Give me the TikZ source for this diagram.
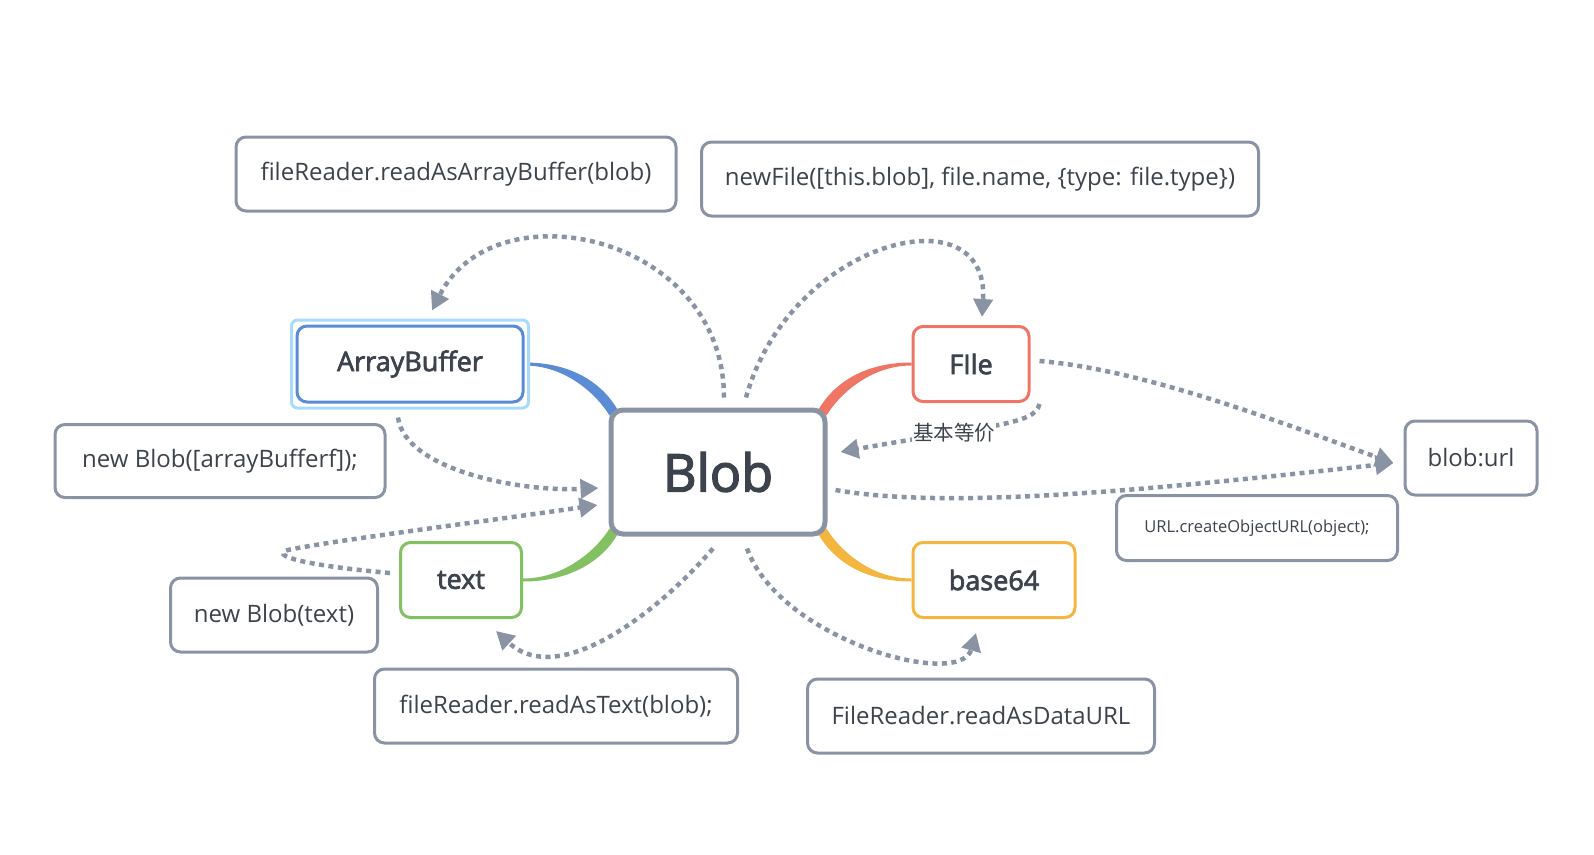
\documentclass[tikz,border=0pt]{standalone}
\usepackage{fontspec}
\setmainfont{Open Sans}
\newfontfamily\semib[FakeBold=2.6]{Open Sans}
\newfontfamily\cjk{Noto Sans CJK SC}
\usetikzlibrary{arrows.meta}
\definecolor{gline}{HTML}{8A93A3}
\definecolor{tcol}{HTML}{3D434C}
\definecolor{abcol}{HTML}{5B8BD4}
\definecolor{abglow}{HTML}{A8DBFB}
\definecolor{filecol}{HTML}{EF7564}
\definecolor{txtcol}{HTML}{82C062}
\definecolor{b64col}{HTML}{F4B63F}
\pgfdeclarelayer{bg}
\pgfsetlayers{bg,main}
\tikzset{
  lbl/.style={draw=gline, line width=3pt, rounded corners=10pt, fill=white, text=tcol, font=\fontsize{24}{28}\selectfont, inner sep=0pt},
  child/.style={line width=3pt, rounded corners=10pt, fill=white, text=tcol, font=\semib\fontsize{27}{31}\selectfont, inner sep=0pt},
  mainnode/.style={draw=gline, line width=5pt, rounded corners=12pt, fill=white, text=tcol, font=\semib\fontsize{52}{60}\selectfont, inner sep=0pt},
  dotarrow/.style={gline, line width=4.5pt, dash pattern=on 5pt off 4.5pt, -{Triangle[length=18pt,width=19pt]}},
  dotline/.style={gline, line width=4.5pt, dash pattern=on 5pt off 4.5pt}
}
\begin{document}
\begin{tikzpicture}[x=1pt,y=-1pt]
\useasboundingbox (0,0) rectangle (1594,854);
% nodes
\node[child, draw=abglow, minimum width=237pt, minimum height=88pt, rounded corners=6pt] (abg) at (410,364) {};
\node[child, draw=abcol, minimum width=226pt, minimum height=76pt] (ab) at (410,364) {ArrayBuffer};
\node[mainnode, minimum width=214pt, minimum height=124pt] (blob) at (718,472) {Blob};
\node[child, draw=filecol, minimum width=116pt, minimum height=75pt] (file) at (971,364) {FIle};
\node[child, draw=txtcol, minimum width=121pt, minimum height=75pt] (txt) at (461,580) {text};
\node[child, draw=b64col, minimum width=162pt, minimum height=75pt] (b64) at (994,580) {base64};
\node[lbl, minimum width=132pt, minimum height=74pt] (url) at (1471,458) {blob:url};
\node[lbl, minimum width=440pt, minimum height=74pt] (l1) at (456,174) {fileReader.readAsArrayBuffer(blob)};
\node[lbl, minimum width=557pt, minimum height=74pt] (l2) at (980,179) {newFile([this.blob], file.name, \{type: file.type\})};
\node[lbl, minimum width=330pt, minimum height=73pt] (l3) at (220,461) {new Blob([arrayBufferf]);};
\node[lbl, minimum width=207pt, minimum height=74pt] (l4) at (274,615) {new Blob(text)};
\node[lbl, minimum width=363pt, minimum height=74pt] (l5) at (556,706) {fileReader.readAsText(blob);};
\node[lbl, minimum width=347pt, minimum height=74pt] (l6) at (981,716) {FileReader.readAsDataURL};
\node[lbl, minimum width=281pt, minimum height=65pt, font=\fontsize{16.5}{19}\selectfont] (l7) at (1257,528) {URL.createObjectURL(object);};
\begin{pgfonlayer}{bg}
% colored tapered connectors
\fill[abcol] ([yshift=1.5pt]ab.east) .. controls +(50pt,0pt) and +(-14pt,24pt) .. ([xshift=9pt,yshift=-2pt]blob.north west)
  -- ([xshift=1pt,yshift=-8pt]blob.north west) .. controls +(-12pt,20pt) and +(42pt,0pt) .. ([yshift=-1.5pt]ab.east) -- cycle;
\fill[filecol] ([yshift=1.5pt]file.west) .. controls +(-50pt,0pt) and +(14pt,24pt) .. ([xshift=-9pt,yshift=-2pt]blob.north east)
  -- ([xshift=-1pt,yshift=-8pt]blob.north east) .. controls +(12pt,20pt) and +(-42pt,0pt) .. ([yshift=-1.5pt]file.west) -- cycle;
\fill[txtcol] ([yshift=-1.5pt]txt.east) .. controls +(50pt,0pt) and +(-14pt,-24pt) .. ([xshift=9pt,yshift=2pt]blob.south west)
  -- ([xshift=1pt,yshift=8pt]blob.south west) .. controls +(-12pt,-20pt) and +(42pt,0pt) .. ([yshift=1.5pt]txt.east) -- cycle;
\fill[b64col] ([yshift=-1.5pt]b64.west) .. controls +(-50pt,0pt) and +(14pt,-24pt) .. ([xshift=-9pt,yshift=2pt]blob.south east)
  -- ([xshift=-1pt,yshift=8pt]blob.south east) .. controls +(12pt,-20pt) and +(-42pt,0pt) .. ([yshift=1.5pt]b64.west) -- cycle;
\end{pgfonlayer}
% dotted connectors
\draw[dotarrow] ([xshift=6pt,yshift=10pt]blob.north) .. controls (724,235) and (495,185) .. ([xshift=22pt,yshift=8pt]abg.north);
\draw[dotarrow] ([xshift=28pt,yshift=10pt]blob.north) .. controls (790,240) and (990,190) .. ([xshift=11pt,yshift=8pt]file.north);
\draw[dotarrow] ([xshift=-12pt,yshift=-8pt]abg.south) .. controls (405,470) and (520,492) .. ([xshift=-10pt,yshift=-16pt]blob.west);
\draw[dotarrow] ([xshift=-9pt,yshift=7pt]txt.west) .. controls (300,565) and (270,555) .. (288,550) .. controls (330,541) and (480,522) .. ([xshift=-11pt,yshift=-33pt]blob.west);
\draw[dotarrow] ([xshift=-5pt,yshift=-12pt]blob.south) .. controls (660,610) and (560,690) .. ([xshift=35pt,yshift=-12pt]txt.south);
\draw[dotarrow] ([xshift=29pt,yshift=-12pt]blob.south) .. controls (780,640) and (960,690) .. ([xshift=-18pt,yshift=-14pt]b64.south);
\draw[dotarrow] ([xshift=9pt,yshift=-1pt]file.south east) .. controls (1035,425) and (990,425) .. node[pos=0.68, fill=white, inner sep=1pt, text=tcol, font=\cjk\fontsize{20.5}{24}\selectfont] (eq) {基本等价} ([xshift=13pt,yshift=20pt]blob.east);
\draw[dotarrow] ([xshift=9pt,yshift=3pt]file.east) .. controls (1150,370) and (1300,430) .. ([xshift=-10pt,yshift=-5pt]url.west);
\draw[dotarrow] ([xshift=8pt,yshift=-18pt]blob.east) .. controls (950,510) and (1150,490) .. ([xshift=-10pt,yshift=-5pt]url.west);
\end{tikzpicture}
\end{document}
